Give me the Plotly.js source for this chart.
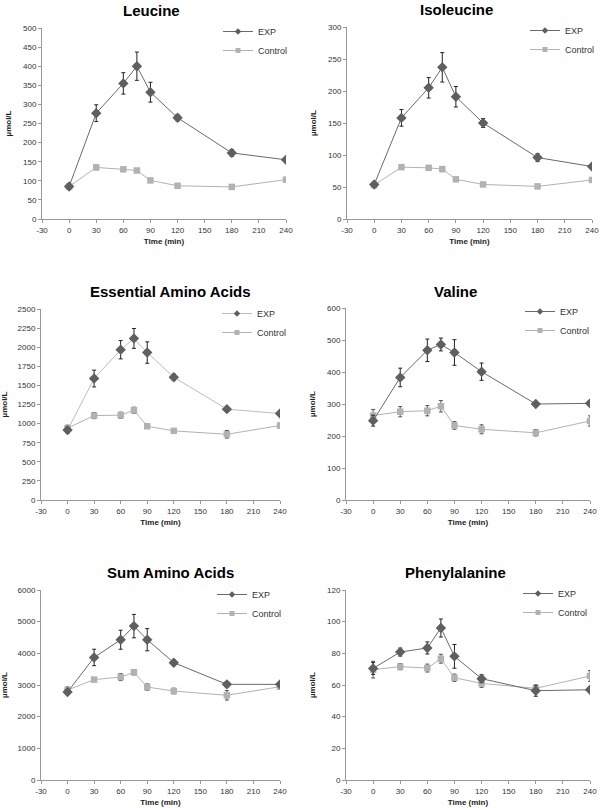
<!DOCTYPE html>
<html>
<head>
<meta charset="utf-8">
<script src="https://cdn.plot.ly/plotly-3.0.1.min.js"></script>
<style>
  html, body { margin: 0; padding: 0; background: #fff; }
  #chart { width: 600px; height: 808px; }
</style>
</head>
<body>
<div id="chart"></div>
<script>
// Sampling times (min)
const times = [0, 30, 60, 75, 90, 120, 180, 240];
const timeTicks = [-30, 0, 30, 60, 90, 120, 150, 180, 210, 240];

// Leucine
const leuExp = [85, 277, 355, 400, 332, 265, 173, 155];
const leuExpErr = [4, 22, 28, 37, 26, 8, 9, 4];
const leuCtl = [85, 135, 130, 127, 101, 87, 84, 103];
const leuCtlErr = [3, 6, 4, 5, 4, 4, 3, 4];

// Isoleucine
const ileExp = [54, 158, 205, 237, 191, 150, 96, 82];
const ileExpErr = [3, 13, 16, 23, 16, 7, 6, 3];
const ileCtl = [53, 81, 80, 78, 62, 54, 51, 61];
const ileCtlErr = [3, 3, 2, 4, 2, 3, 2, 3];

// Essential amino acids
const eaaExp = [915, 1590, 1967, 2115, 1930, 1607, 1189, 1132];
const eaaExpErr = [40, 110, 120, 130, 140, 40, 30, 20];
const eaaCtl = [940, 1105, 1110, 1175, 965, 905, 860, 975];
const eaaCtlErr = [40, 40, 40, 40, 25, 30, 50, 30];

// Valine
const valExp = [248, 383, 468, 486, 461, 401, 300, 302];
const valExpErr = [17, 29, 35, 20, 40, 27, 7, 7];
const valCtl = [264, 276, 279, 293, 233, 221, 210, 247];
const valCtlErr = [19, 16, 16, 18, 12, 14, 10, 16];

// Sum amino acids
const sumExp = [2780, 3870, 4430, 4860, 4430, 3705, 3020, 3020];
const sumExpErr = [80, 260, 300, 370, 350, 80, 80, 60];
const sumCtl = [2840, 3170, 3250, 3400, 2935, 2810, 2675, 2945];
const sumCtlErr = [100, 60, 110, 80, 100, 90, 150, 60];

// Phenylalanine
const pheExp = [70.5, 80.8, 83.4, 96, 78.1, 64, 56.4, 57];
const pheExpErr = [3.8, 2.5, 3.8, 5.7, 7.5, 2.5, 3.5, 1.5];
const pheCtl = [69.7, 71.6, 70.7, 76.6, 64.6, 61, 57.9, 65.7];
const pheCtlErr = [5.3, 2, 2.5, 2.8, 2.3, 2.5, 2, 3.4];

const W = 600, H = 808;
const px = v => v / W;
const py = v => 1 - v / H;

const EXP_COLOR = '#5f5f5f';
const EXP_LINE = '#6a6a6a';
const CTL_COLOR = '#b2b2b2';
const FONT = 'Liberation Sans, Arial, Helvetica, sans-serif';

// Panel layout (pixel boxes measured on the reference)
const panels = [
  { title: 'Leucine', exp: leuExp, expErr: leuExpErr, ctl: leuCtl, ctlErr: leuCtlErr,
    yMax: 500, dtick: 50, box: [42, 286, 28, 219], titlePos: [151, 10], leg: [218, 17], expLine: EXP_LINE },
  { title: 'Isoleucine', exp: ileExp, expErr: ileExpErr, ctl: ileCtl, ctlErr: ileCtlErr,
    yMax: 300, dtick: 50, box: [347, 592, 27, 219], titlePos: [456, 9], leg: [525, 16], expLine: EXP_LINE },
  { title: 'Essential Amino Acids', exp: eaaExp, expErr: eaaExpErr, ctl: eaaCtl, ctlErr: eaaCtlErr,
    yMax: 2500, dtick: 250, box: [41, 280, 309, 500], titlePos: [170, 291], leg: [217, 299], expLine: '#bdbdbd' },
  { title: 'Valine', exp: valExp, expErr: valExpErr, ctl: valCtl, ctlErr: valCtlErr,
    yMax: 600, dtick: 100, box: [346, 590, 308, 500], titlePos: [455, 291], leg: [520, 297], expLine: EXP_LINE },
  { title: 'Sum Amino Acids', exp: sumExp, expErr: sumExpErr, ctl: sumCtl, ctlErr: sumCtlErr,
    yMax: 6000, dtick: 1000, box: [41, 280, 590, 780], titlePos: [170, 572], leg: [212, 580], expLine: EXP_LINE },
  { title: 'Phenylalanine', exp: pheExp, expErr: pheExpErr, ctl: pheCtl, ctlErr: pheCtlErr,
    yMax: 120, dtick: 20, box: [346, 590, 590, 780], titlePos: [455, 572], leg: [518, 579], expLine: EXP_LINE }
];

const traces = [];
const layout = {
  width: W,
  height: H,
  margin: { t: 0, r: 0, b: 0, l: 0 },
  paper_bgcolor: '#FFFFFF',
  plot_bgcolor: '#FFFFFF',
  font: { family: FONT, size: 8, color: '#333' },
  showlegend: true,
  annotations: []
};

panels.forEach((p, i) => {
  const n = i === 0 ? '' : String(i + 1);
  const xa = 'x' + n, ya = 'y' + n;
  const legName = 'legend' + n;

  // Control first so EXP sits on top
  traces.push({
    x: times, y: p.ctl, xaxis: xa, yaxis: ya,
    type: 'scatter', mode: 'lines+markers', showlegend: false,
    line: { color: CTL_COLOR, width: 1 },
    marker: { symbol: 'square', size: 6.5, color: CTL_COLOR },
    error_y: { type: 'data', array: p.ctlErr, visible: true, color: '#555', thickness: 1, width: 2 }
  });
  traces.push({
    x: times, y: p.exp, xaxis: xa, yaxis: ya,
    type: 'scatter', mode: 'lines+markers', showlegend: false,
    line: { color: p.expLine, width: 1 },
    marker: { symbol: 'diamond', size: 8, color: EXP_COLOR },
    error_y: { type: 'data', array: p.expErr, visible: true, color: '#222', thickness: 1, width: 2 }
  });

  // Legend entries with the small symbols of the original key
  traces.push({
    x: [null], y: [null], xaxis: xa, yaxis: ya, name: 'EXP', legend: legName,
    type: 'scatter', mode: 'lines+markers',
    line: { color: p.expLine, width: 1 },
    marker: { symbol: 'diamond', size: 5, color: EXP_COLOR }
  });
  traces.push({
    x: [null], y: [null], xaxis: xa, yaxis: ya, name: 'Control', legend: legName,
    type: 'scatter', mode: 'lines+markers',
    line: { color: CTL_COLOR, width: 1 },
    marker: { symbol: 'square', size: 5, color: CTL_COLOR }
  });

  const [x0, x1, y0, y1] = p.box;
  layout['xaxis' + n] = {
    domain: [px(x0), px(x1)],
    anchor: ya,
    range: [-30, 240],
    tickmode: 'array',
    tickvals: timeTicks,
    ticktext: timeTicks.map(String),
    showgrid: false, zeroline: false,
    showline: true, linecolor: '#999', linewidth: 1,
    ticks: 'outside', ticklen: 3, tickcolor: '#999',
    tickfont: { size: 8, color: '#333' },
    title: { text: '<b>Time (min)</b>', font: { size: 8, color: '#222' }, standoff: 4 }
  };
  layout['yaxis' + n] = {
    domain: [py(y1), py(y0)],
    anchor: xa,
    range: [0, p.yMax],
    dtick: p.dtick,
    showgrid: false, zeroline: false,
    showline: true, linecolor: '#999', linewidth: 1,
    ticks: 'outside', ticklen: 3, tickcolor: '#999',
    tickfont: { size: 8, color: '#333' },
    title: { text: '<b>µmol/L</b>', font: { size: 8, color: '#222' }, standoff: 10 }
  };
  layout[legName] = {
    x: px(p.leg[0]), y: py(p.leg[1]),
    xanchor: 'left', yanchor: 'top',
    bgcolor: 'rgba(0,0,0,0)', borderwidth: 0,
    font: { family: FONT, size: 9, color: '#333' },
    itemsizing: 'trace'
  };
  layout.annotations.push({
    xref: 'paper', yref: 'paper',
    x: px(p.titlePos[0]), y: py(p.titlePos[1]),
    xanchor: 'center', yanchor: 'middle',
    text: '<b>' + p.title + '</b>', showarrow: false,
    font: { family: FONT, size: 15, color: '#000' }
  });
});

Plotly.newPlot('chart', traces, layout, { displayModeBar: false, staticPlot: true });
</script>
</body>
</html>
